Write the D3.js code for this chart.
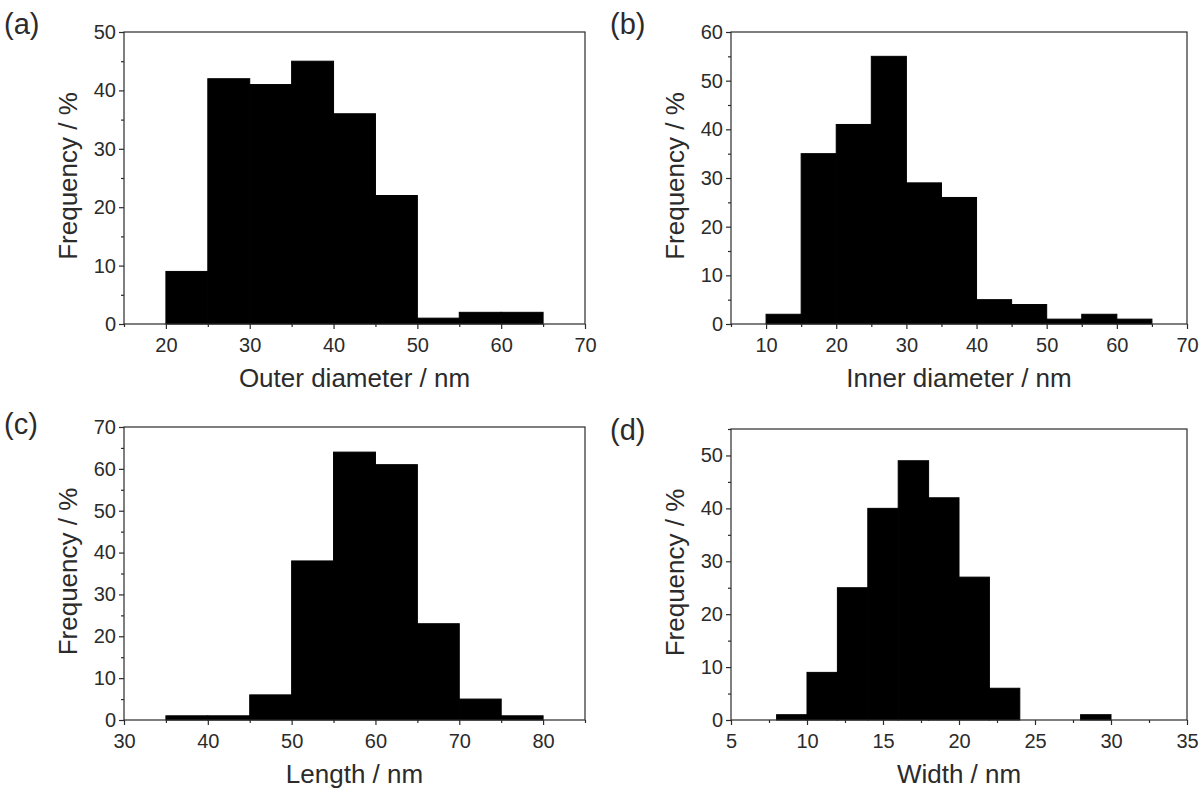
<!DOCTYPE html>
<html>
<head>
<meta charset="utf-8">
<script src="https://cdn.jsdelivr.net/npm/d3@7"></script>
<style>
  html, body { margin: 0; padding: 0; background: #fff; }
  svg { display: block; font-family: "Liberation Sans", Arial, sans-serif; }
</style>
</head>
<body>
<svg id="fig" width="1202" height="792"></svg>
<script>
// Histogram bins: left edges, bin width and frequency (%) for each panel
const outerEdges = [20, 25, 30, 35, 40, 45, 50, 55, 60];
const outerFreq  = [9, 42, 41, 45, 36, 22, 1, 2, 2];

const innerEdges = [10, 15, 20, 25, 30, 35, 40, 45, 50, 55, 60];
const innerFreq  = [2, 35, 41, 55, 29, 26, 5, 4, 1, 2, 1];

const lengthEdges = [35, 40, 45, 50, 55, 60, 65, 70, 75];
const lengthFreq  = [1, 1, 6, 38, 64, 61, 23, 5, 1];

const widthEdges = [8, 10, 12, 14, 16, 18, 20, 22, 24, 26, 28];
const widthFreq  = [1, 9, 25, 40, 49, 42, 27, 6, 0, 0, 1];

// Tick values
const outerXTicks  = [20, 30, 40, 50, 60, 70];
const innerXTicks  = [10, 20, 30, 40, 50, 60, 70];
const lengthXTicks = [30, 40, 50, 60, 70, 80];
const widthXTicks  = [5, 10, 15, 20, 25, 30, 35];

const panels = [
  { tag: "(a)", xTitle: "Outer diameter / nm", edges: outerEdges, freq: outerFreq, binW: 5,
    xDom: [15, 70], yDom: [0, 50], xTicks: outerXTicks, xMinor: 5, yTicks: d3.range(0, 51, 10),
    box: { l: 124, r: 585, t: 32, b: 324 }, tagPos: [4, 34] },
  { tag: "(b)", xTitle: "Inner diameter / nm", edges: innerEdges, freq: innerFreq, binW: 5,
    xDom: [5, 70], yDom: [0, 60], xTicks: innerXTicks, xMinor: 5, yTicks: d3.range(0, 61, 10),
    box: { l: 731, r: 1187, t: 32, b: 324 }, tagPos: [610, 34] },
  { tag: "(c)", xTitle: "Length / nm", edges: lengthEdges, freq: lengthFreq, binW: 5,
    xDom: [30, 85], yDom: [0, 70], xTicks: lengthXTicks, xMinor: 5, yTicks: d3.range(0, 71, 10),
    box: { l: 124, r: 585, t: 427, b: 720 }, tagPos: [4, 434] },
  { tag: "(d)", xTitle: "Width / nm", edges: widthEdges, freq: widthFreq, binW: 2,
    xDom: [5, 35], yDom: [0, 55], xTicks: widthXTicks, xMinor: 2.5, yTicks: d3.range(0, 51, 10),
    box: { l: 731, r: 1187, t: 429, b: 720 }, tagPos: [610, 440] }
];

const svg = d3.select("#fig");
const ink = "#2b2b2b";
const tickFont = 20;
const titleFont = 26;

panels.forEach(p => {
  const { l, r, t, b } = p.box;
  const x = d3.scaleLinear().domain(p.xDom).range([l, r]);
  const y = d3.scaleLinear().domain(p.yDom).range([b, t]);
  const g = svg.append("g");

  // bars
  g.selectAll("rect.bar")
    .data(p.edges.map((e, i) => ({ x0: e, x1: e + p.binW, v: p.freq[i] })).filter(d => d.v > 0))
    .join("rect")
    .attr("class", "bar")
    .attr("x", d => x(d.x0))
    .attr("width", d => x(d.x1) - x(d.x0))
    .attr("y", d => y(d.v))
    .attr("height", d => y(0) - y(d.v))
    .attr("fill", "#000")
    .attr("stroke", "#000")
    .attr("stroke-width", 1);

  // frame
  g.append("rect")
    .attr("x", l).attr("y", t).attr("width", r - l).attr("height", b - t)
    .attr("fill", "none").attr("stroke", ink).attr("stroke-width", 1.2);

  // minor ticks
  const xMinorVals = d3.range(p.xDom[0], p.xDom[1] + 1e-9, p.xMinor).filter(v => !p.xTicks.includes(v));
  const xMinorAxis = d3.axisBottom(x).tickValues(xMinorVals).tickSize(3).tickFormat("");
  g.append("g").attr("transform", `translate(0,${b})`).call(xMinorAxis)
    .call(s => s.select(".domain").remove())
    .selectAll("line").attr("stroke", ink).attr("stroke-width", 1.2);
  const yMinorVals = d3.range(p.yDom[0] + 5, p.yDom[1] + 1e-9, 10);
  const yMinorAxis = d3.axisLeft(y).tickValues(yMinorVals).tickSize(3).tickFormat("");
  g.append("g").attr("transform", `translate(${l},0)`).call(yMinorAxis)
    .call(s => s.select(".domain").remove())
    .selectAll("line").attr("stroke", ink).attr("stroke-width", 1.2);

  // major ticks + labels
  const xAxis = d3.axisBottom(x).tickValues(p.xTicks).tickSize(5).tickPadding(9).tickFormat(d3.format("d"));
  const gx = g.append("g").attr("transform", `translate(0,${b})`).call(xAxis);
  gx.select(".domain").remove();
  gx.selectAll("line").attr("stroke", ink).attr("stroke-width", 1.2);
  gx.selectAll("text").attr("fill", ink).attr("font-size", tickFont).attr("font-family", "'Liberation Sans', Arial, sans-serif");

  const yAxis = d3.axisLeft(y).tickValues(p.yTicks).tickSize(5).tickPadding(3).tickFormat(d3.format("d"));
  const gy = g.append("g").attr("transform", `translate(${l},0)`).call(yAxis);
  gy.select(".domain").remove();
  gy.selectAll("line").attr("stroke", ink).attr("stroke-width", 1.2);
  gy.selectAll("text").attr("fill", ink).attr("font-size", tickFont).attr("font-family", "'Liberation Sans', Arial, sans-serif");

  // axis titles
  g.append("text")
    .attr("x", (l + r) / 2).attr("y", b + 63)
    .attr("text-anchor", "middle").attr("font-size", titleFont).attr("fill", ink)
    .text(p.xTitle);
  g.append("text")
    .attr("transform", `translate(${l - 47},${(t + b) / 2 - 2}) rotate(-90)`)
    .attr("text-anchor", "middle").attr("font-size", titleFont).attr("fill", ink)
    .text("Frequency / %");

  // panel tag
  g.append("text")
    .attr("x", p.tagPos[0]).attr("y", p.tagPos[1])
    .attr("font-size", 29).attr("fill", ink)
    .text(p.tag);
});
</script>
</body>
</html>
